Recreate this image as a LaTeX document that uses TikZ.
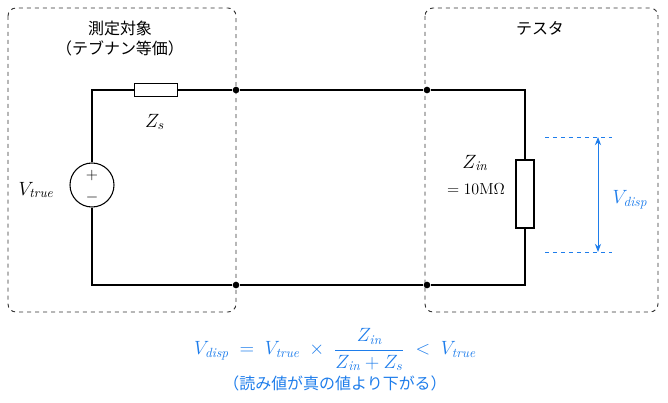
\documentclass[tikz,border=0pt]{standalone}
\usepackage{fontspec}
\newfontfamily\cjk{Noto Sans CJK JP}
\usepackage{amsmath}
\usetikzlibrary{positioning, arrows.meta}
\definecolor{vblue}{RGB}{30,125,235}
\tikzset{
	frame/.style={draw, dashed, rounded corners=6pt, line width=0.7pt, black!80},
	res/.style={draw, rectangle, fill=white, line width=0.8pt},
	junction/.style={circle, fill=black, inner sep=0pt, minimum size=5pt},
	lbl/.style={font=\Large},
	blue/.style={text=vblue, font=\Large},
}
\begin{document}
\begin{tikzpicture}[x=0.0264cm, y=-0.0264cm]
	\useasboundingbox (0,0) rectangle (668,402);
	\draw[frame] (8,8) rectangle (236,312);
	\draw[frame] (425,8) rectangle (658,312);
	
	\node (obj) at (120,28) {\cjk\large 測定対象};
	\node (thev) [below=-3pt of obj] {\cjk\large （テブナン等価）};
	\node (tester) at (540,28) {\cjk\large テスタ};
	
	\coordinate (tl) at (92,90);
	\coordinate (bl) at (92,285);
	\coordinate (tr) at (525,90);
	\coordinate (br) at (525,285);
	\node (j1) [junction] at (236,90) {};
	\node (j2) [junction] at (236,285) {};
	\node (j3) [junction] at (427,90) {};
	\node (j4) [junction] at (427,285) {};
	
	\node (src) [draw, circle, fill=white, line width=0.8pt, minimum size=44*0.0264cm, inner sep=0pt] at (92,185) {};
	\node (plus) at (92,175) {\large $+$};
	\node (minus) at (92,197) {\large $-$};
	\node (zs) [res, minimum width=43*0.0264cm, minimum height=13*0.0264cm] at (156,90) {};
	\node (zin) [res, minimum width=18*0.0264cm, minimum height=68*0.0264cm] at (525,194) {};
	
	\begin{scope}[line width=0.8pt]
		\draw (src) -- (tl) -- (zs) -- (j1) -- (j3) -- (tr) -- (zin);
		\draw (zin) -- (br) -- (j4) -- (j2) -- (bl) -- (src);
	\end{scope}
	
	\node (lzs) [lbl] at (155,122) {$Z_s$};
	\node (lvt) [lbl] at (36,190) {$V_{\mathit{true}}$};
	\node (lzin) [lbl] at (475,163) {$Z_{\mathit{in}}$};
	\node (lval) at (476,189) {\large $=10\mathrm{M}\Omega$};
	
	\coordinate (d1) at (545,137);
	\coordinate (d2) at (612,137);
	\coordinate (d3) at (545,252);
	\coordinate (d4) at (612,252);
	\coordinate (a1) at (598,137);
	\coordinate (a2) at (598,252);
	\begin{scope}[vblue, line width=0.7pt]
		\draw[dashed] (d1) -- (d2);
		\draw[dashed] (d3) -- (d4);
		\draw[{Stealth}-{Stealth}] (a1) -- (a2);
	\end{scope}
	\node (lvd) [blue] at (630,200) {$V_{\mathit{disp}}$};
	
	\node (eq) [blue] at (335,350) {$V_{\mathit{disp}} \;=\; V_{\mathit{true}} \;\times\; \dfrac{Z_{\mathit{in}}}{Z_{\mathit{in}}+Z_s} \;<\; V_{\mathit{true}}$};
	\node (note) [text=vblue] at (335,383) {\cjk\large （読み値が真の値より下がる）};
\end{tikzpicture}
\end{document}
